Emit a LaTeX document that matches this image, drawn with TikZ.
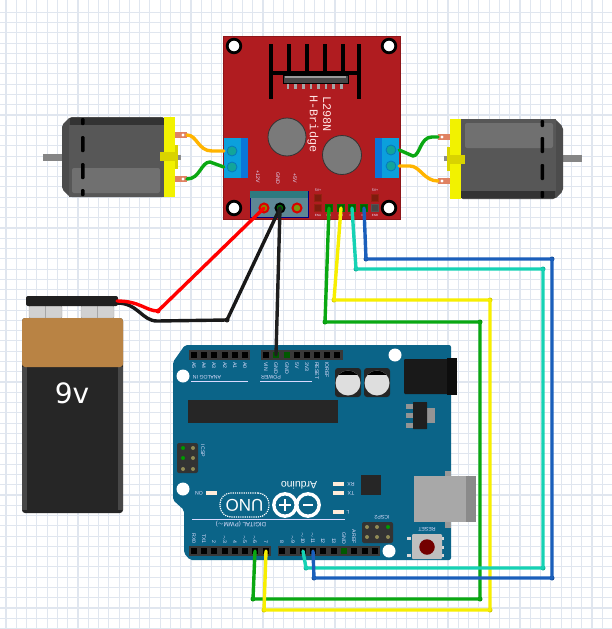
\documentclass[tikz,border=0pt]{standalone}
\usepackage{fontspec}
\setmainfont{Liberation Sans}
\newfontfamily\monofam{Liberation Mono}
\newfontfamily\batfam{DejaVu Sans}
\usetikzlibrary{shapes,positioning}

\definecolor{gridline}{HTML}{E0E6EF}
\definecolor{boardred}{HTML}{B01C20}
\definecolor{ardblue}{HTML}{0B6488}
\definecolor{termblue}{HTML}{0BA0DC}
\definecolor{termdark}{HTML}{0A76D8}
\definecolor{termteal}{HTML}{12A59A}
\definecolor{powerbody}{HTML}{5E8795}
\definecolor{powerband}{HTML}{2E7A80}
\definecolor{wiregreen}{HTML}{0AA812}
\definecolor{wireyellow}{HTML}{F7EE00}
\definecolor{wirecyan}{HTML}{16D2B4}
\definecolor{wireblue}{HTML}{1B5FBB}
\definecolor{wireorange}{HTML}{FFB400}
\definecolor{lugred}{HTML}{E08262}
\definecolor{platey}{HTML}{F2F200}
\definecolor{clipy}{HTML}{D9D300}
\definecolor{batbrown}{HTML}{B98344}

\tikzset{
	% -------------------------------------------------
	% shapes that repeat on the boards
	box/.style={inner sep=0, minimum width=#1},
	mhole/.style={circle, draw=black, line width=2.8pt, fill=white, inner sep=0, minimum size=13.6pt},
	whole/.style={circle, fill=white, inner sep=0, minimum size=13pt},
	gray circle/.style={circle, draw=black!80, line width=0.8pt, fill=black!52, inner sep=0, minimum size=#1},
	screw/.style={circle, draw=termdark!70!teal, line width=0.8pt, fill=termteal, inner sep=0, minimum size=10pt},
	wirehole/.style={circle, line width=2pt, inner sep=0, minimum size=9pt},
	pad/.style={rectangle, inner sep=0, minimum size=7pt, fill=#1!55!black, draw=#1!65!black, line width=1.6pt},
	pinhole/.style={rectangle, inner sep=0, minimum size=5.6pt, fill=black},
	icsppin/.style={circle, inner sep=0, minimum size=4pt, fill=#1},
	led/.style={rectangle, inner sep=0, minimum width=11pt, minimum height=4.5pt, fill=#1},
	% -------------------------------------------------
	% printed text
	silk/.style={font=\fontsize{5.2}{6}\selectfont, text=white!88!blue, inner sep=0},
	silkd/.style={silk, rotate=-90},
	silkf/.style={silk, rotate=180},
	brdsilk/.style={font=\monofam\fontsize{#1}{#1}\selectfont, text=white!90!red, inner sep=0, rotate=-90},
	% -------------------------------------------------
	% connector line styles
	wire/.style={line width=3.4pt, line join=round, line cap=round, draw=#1},
	wirebend/.style={circle, inner sep=0, minimum size=5pt, fill=#1},
	% -------------------------------------------------
	% one motor, the other one is this one turned round
	motor/.pic={
		\fill[black!48] (43,154) rectangle (62,161);
		\fill[black!45] (175,155) rectangle (181,160);
		\fill[black!70, rounded corners=2pt] (62,125) -- (70,117) -- (164,117) -- (164,197) -- (70,197) -- (62,189) -- cycle;
		\fill[black!66] (69,125) rectangle (164,197);
		\fill[black!56, rounded corners=2pt] (72,168) rectangle (160,193);
		\fill[black!80] (70,118) rectangle (164,125);
		\foreach \ya/\yb in {118/125, 136/152, 163/179, 189/196}
			\fill[black, rounded corners=1pt] (81,\ya) rectangle (84.5,\yb);
		\fill[platey] (164,117) rectangle (175,197);
		\fill[clipy] (175,145) rectangle (178,169);
		\fill[clipy] (160,152) rectangle (178,161);
		\fill[lugred] (175,132) rectangle (187,138);
		\fill[lugred] (175,176) rectangle (187,182);
		\fill[white] (183,135) circle (1.6);
		\fill[white] (183,179) circle (1.6);
		\coordinate (-lugA) at (187,135);
		\coordinate (-lugB) at (187,179);
	},
}

\begin{document}
\begin{tikzpicture}[x=1pt, y=-1pt]
	\useasboundingbox (0,0) rectangle (612,629);
	\fill[white] (0,0) rectangle (612,629);

	% ------------------------------------------------- 
	% squared paper
	\foreach \i in {0,...,59}
		\draw[gridline, line width=1.1pt] ({6+10.28*\i},0) -- ({6+10.28*\i},629);
	\foreach \i in {0,...,60}
		\draw[gridline, line width=1.1pt] (0,{12.3+10.27*\i}) -- (612,{12.3+10.27*\i});

	% ------------------------------------------------- 
	% motors
	\pic (mL) at (0,0) {motor};
	\pic[rotate around={180:(312.5,158)}] (mR) at (0,0) {motor};

	% ------------------------------------------------- 
	% L298N board
	\node[fill=boardred, draw=boardred!80!black, box=177pt, minimum height=183pt] (brd) at (311.5,127.5) {};
	\node[mhole] (h1) at (234,46) {};
	\node[mhole] (h2) at (389,46) {};
	\node[mhole] (h3) at (234,208) {};
	\node[mhole] (h4) at (389,208) {};

	% heat sink
	\foreach \x in {289,307,325,343}
		\fill[black] (\x-1.8,44) rectangle (\x+1.8,73);
	\foreach \x in {271,359}
		\fill[black] (\x-1.8,44) rectangle (\x+1.8,99);
	\fill[black] (271,71.2) rectangle (359,74.8);
	\foreach \i in {0,...,7}
		\fill[black!35] ({288+7.6*\i-1.3},83) rectangle ({288+7.6*\i+1.3},89);
	\fill[black!72, draw=black] (283,75) rectangle (348,83);
	\fill[black!40] (285,76) rectangle (346,78);

	\node[brdsilk=11.8] (t298) at (327,114) {L298N};
	\node[brdsilk=11.8] (tbridge) at (313,124) {H-Bridge};

	\node[gray circle=38pt] (c1) at (287,137) {};
	\node[gray circle=39pt] (c2) at (342,155) {};

	% motor terminals
	\node[fill=termblue, box=24pt, minimum height=40pt] (blkL) at (236,158) {};
	\fill[termdark] (241,138) rectangle (248,178);
	\node[screw] (sL1) at (232,151) {};
	\node[screw] (sL2) at (232,167) {};
	\node[fill=termblue, box=24pt, minimum height=40pt] (blkR) at (387,158) {};
	\fill[termdark] (375,138) rectangle (382,178);
	\node[screw] (sR1) at (391,150) {};
	\node[screw] (sR2) at (391,166) {};

	% power terminal
	\node[fill=powerbody, draw=blue!50!black, box=58pt, minimum height=26pt] (ptm) at (279,204) {};
	\fill[powerband] (250,191) rectangle (308,198);
	\node[wirehole, draw=red!85!black, fill=olive] (p12) at (264,208) {};
	\node[wirehole, draw=black, fill=green!40!black] (pgnd) at (280,208) {};
	\node[wirehole, draw=red!85!black, fill=olive!70!green] (p5) at (297,208) {};
	\node[silkd] (tv12) at (258,177) {+12V};
	\node[silkd] (tgnd) at (278,178) {GND};
	\node[silkd] (tv5) at (295,178) {+5V};

	% control pins
	\node[pad=red!60!brown] (sa) at (318,198) {};
	\node[pad=red!60!brown] (ena) at (318,208) {};
	\node[pad=green!70!black] (in1) at (329,208) {};
	\node[pad=green!70!black] (in2) at (341,208) {};
	\node[pad=green!70!black] (in3) at (352,208) {};
	\node[pad=green!70!black] (in4) at (364,208) {};
	\node[pad=red!60!brown] (sb) at (375,198) {};
	\node[pad=gray] (enb) at (375,208) {};
	\node[silk, font=\fontsize{3.6}{4}\selectfont] at (318,190) {5V+};
	\node[silk, font=\fontsize{3.6}{4}\selectfont] at (375,190) {5V+};
	\foreach \x/\t in {318/ENA, 329/IN1, 341/IN2, 352/IN3, 364/IN4, 375/ENB}
		\node[silk, font=\fontsize{3}{3}\selectfont] at (\x,215.5) {\t};

	% ------------------------------------------------- 
	% Arduino board
	\fill[ardblue, rounded corners=2pt] (185,345) -- (451,345) -- (451,560) -- (190,560)
		-- (184,553) -- (184,510) -- (173,500) -- (173,362) -- cycle;
	\node[whole] (w1) at (183,376) {};
	\node[whole] (w2) at (395,355) {};
	\node[whole] (w3) at (183,489) {};
	\node[whole] (w4) at (389,551) {};

	% headers
	\fill[black!78] (189,350) rectangle (250,360);
	\fill[black!78] (261,350) rectangle (343,360);
	\fill[black!78] (189,546) rectangle (271,556);
	\fill[black!78] (278,546) rectangle (380,556);
	\foreach \x/\t [count=\i] in {194/A5, 204/A4, 214/A3, 225/A2, 235/A1, 245/A0} {
		\node[pinhole] (ana\i) at (\x,355) {};
		\node[silkd, anchor=west] at (\x,362) {\t};
	}
	\foreach \x/\t [count=\i] in {266/VIN, 276/GND, 287/GND, 297/5V, 307/3V3, 317/RESET, 327/IOREF, 337/} {
		\node[pinhole] (pwr\i) at (\x,355) {};
		\node[silkd, anchor=west] at (\x,362) {\t};
	}
	\foreach \x/\t [count=\i] in {194/RX0, 204/TX1, 214/2, 225/$\sim$3, 235/4, 245/$\sim$5, 255/$\sim$6, 266/7, 282/8, 293/$\sim$9, 303/$\sim$10, 313/$\sim$11, 323/12, 334/13, 344/GND, 354/AREF, 365/, 375/} {
		\node[pinhole] (dig\i) at (\x,551) {};
		\node[silkd, anchor=east] at (\x,544) {\t};
	}
	\node[pinhole, fill=green!35!black] at (pwr2) {};
	\node[pinhole, fill=green!35!black] at (pwr3) {};
	\node[pinhole, fill=green!35!black] at (dig15) {};

	\draw[white!85!blue, line width=0.9pt] (191,381) -- (248,381);
	\draw[white!85!blue, line width=0.9pt] (260,381) -- (312,381);
	\draw[white!85!blue, line width=0.9pt] (192,519) -- (345,519);
	\node[silkf] (tana) at (207,377) {ANALOG IN};
	\node[silkf] (tpow) at (271,377) {POWER};
	\node[silkf, font=\fontsize{6.2}{7}\selectfont] (tdig) at (241,524) {DIGITAL (PWM$\sim$)};

	% chips
	\fill[black!85] (188,400) rectangle (338,423);
	\fill[black!85] (361,475) rectangle (381,495);

	% capacitors
	\foreach \x in {348,377} {
		\fill[black!85, rounded corners=3pt] (\x-13,368) rectangle (\x+13,397);
		\fill[black!13] (\x,383) circle (12.5);
		\begin{scope}
			\clip (\x,383) circle (12.5);
			\fill[black] (\x-13,368) rectangle (\x+13,374.5);
		\end{scope}
	}

	% jack, regulator
	\fill[black!90, rounded corners=1pt] (404,359) rectangle (448,394);
	\fill[black!95] (447,358) rectangle (457,395);
	\foreach \y in {404,413,423}
		\fill[black!42] (406,\y) rectangle (413,\y+5);
	\fill[black!42] (427,408) rectangle (435,423);
	\fill[black!88, rounded corners=0.5pt] (413,402) rectangle (427,429);

	% ICSP headers
	\fill[black!80, rounded corners=2pt] (177,443) rectangle (198,473);
	\foreach \x/\y/\c in {183/448/green!60!black, 193/448/olive!40!gray, 183/458/green!60!black, 193/458/olive!40!gray, 183/469/olive!40!gray, 193/469/olive!40!gray}
		\node[icsppin=\c] at (\x,\y) {};
	\node[silkd] (ticsp) at (203,451) {ICSP};
	\fill[black!80, rounded corners=2pt] (362,522) rectangle (393,543);
	\foreach \x/\y/\c in {367/527/olive!40!gray, 377/527/olive!40!gray, 388/527/green!60!black, 367/537/olive!40!gray, 377/537/olive!40!gray, 388/537/olive!40!gray}
		\node[icsppin=\c] at (\x,\y) {};
	\node[silkf] (ticsp2) at (382,517) {ICSP2};

	% logo
	\draw[white, line width=3.4pt] (285,505) circle (11.2);
	\draw[white, line width=3.4pt] (308,505) circle (11.2);
	\draw[white, line width=2.4pt] (279,505) -- (291,505);
	\draw[white, line width=2.4pt] (285,499) -- (285,511);
	\draw[white, line width=2.4pt] (303,505) -- (313,505);
	\node[draw=white, densely dotted, line width=1.2pt, rounded corners=11pt, inner sep=0, minimum width=49pt, minimum height=24pt] (pill) at (244.5,505) {};
	\node[font=\fontsize{17}{17}\selectfont, text=white, inner sep=0, rotate=180] (tuno) at (244.5,505) {UNO};
	\node[font=\fontsize{10.5}{11}\selectfont, text=white, inner sep=0, rotate=180] (tard) at (299,485) {Arduino};

	% leds
	\node[led=white!85!orange] (lon) at (211,493) {};
	\node[led=white!85!orange] (lrx) at (338.5,484) {};
	\node[led=white!85!orange] (ltx) at (338.5,493) {};
	\node[led=white!85!orange] (ll) at (338.5,512) {};
	\node[silkf] at (199,493) {ON};
	\node[silkf] at (351,484) {RX};
	\node[silkf] at (351,493) {TX};
	\node[silkf] at (348,512) {L};

	% usb
	\fill[black!40] (445,471) rectangle (451,476);
	\fill[black!40] (445,522) rectangle (451,528);
	\fill[black!34] (414,476) rectangle (476,522);
	\fill[black!46] (466,476) rectangle (476,522);

	% reset
	\foreach \x/\y in {409/538, 409/555, 442/538, 442/547, 442/555}
		\fill[black!15] (\x-2,\y-1.5) rectangle (\x+2,\y+1.5);
	\fill[black!25, rounded corners=1pt] (412,534) rectangle (442,559);
	\node[circle, fill=red!45!black, inner sep=0, minimum size=15.5pt] (btn) at (427,547) {};
	\node[silkf] (treset) at (427,529) {RESET};

	% ------------------------------------------------- 
	% battery
	\foreach \x in {29,81}
		\fill[black!18, draw=black!35, rounded corners=1pt] (\x,306) rectangle (\x+33,318);
	\foreach \x in {45,97}
		\draw[black!35] (\x,306) -- (\x,318);
	\fill[black!85, rounded corners=3pt] (22,318) rectangle (123,513);
	\fill[black!72] (22,367) rectangle (27,510);
	\fill[black!72] (118,367) rectangle (123,510);
	\fill[batbrown, rounded corners=3pt] (22,318) -- (123,318) -- (123,367) -- (22,367) -- cycle;
	\node[fill=black!88, rounded corners=2pt, box=92pt, minimum height=10pt] (bcap) at (72,301) {};
	\node[font=\batfam\fontsize{28}{28}\selectfont, text=white, inner sep=0] (t9v) at (72,393) {9v};

	% ------------------------------------------------- 
	% motor wires
	\coordinate (oaL) at (blkL.west |- sL1);
	\coordinate (gaL) at (blkL.west |- sL2);
	\draw[wire=wireorange] (mL-lugA) .. controls (197,135) and (198,151) .. (212,151) -- (oaL);
	\draw[wire=wiregreen] (mL-lugB) .. controls (200,179) and (201,162) .. (210,162) -- (gaL);
	\coordinate (gaR) at (blkR.east |- sR1);
	\coordinate (oaR) at (blkR.east |- sR2);
	\draw[wire=wiregreen] (gaR) -- (413,156) .. controls (420,156) and (420,137) .. (432,137) -- (mR-lugB);
	\draw[wire=wireorange] (oaR) -- (410,166) .. controls (420,166) and (424,181) .. (mR-lugA);

	% battery wires
	\coordinate (bred) at (117,301);
	\coordinate (bblk) at (117,303);
	\node[wirebend=black!85] (kblk) at (227,320) {};
	\draw[wire=black!90] (pgnd.center) -- (kblk.center) -- (157,321) .. controls (142,321) and (138,303) .. (bblk);
	\node[wirebend=red] (kred) at (158,311) {};
	\draw[wire=red] (p12.center) -- (kred.center) .. controls (146,311) and (140,301) .. (bred);
	\draw[wire=black!88] (pgnd.center) -- (pwr2.center);

	% ------------------------------------------------- 
	% signal wires, with the bends where they were dragged
	\node[wirebend=wiregreen!85!black] (g1) at (325,322) {};
	\node[wirebend=wiregreen!85!black] (g2) at (480,322) {};
	\node[wirebend=wiregreen!85!black] (g3) at (480,599) {};
	\node[wirebend=wiregreen!85!black] (g4) at (253,599) {};
	\draw[wire=wiregreen] (in1.center) -- (g1.center) -- (g2.center) -- (g3.center) -- (g4.center) -- (dig7.center);

	\node[wirebend=wireyellow!85!black] (y1) at (334,300) {};
	\node[wirebend=wireyellow!85!black] (y2) at (490,300) {};
	\node[wirebend=wireyellow!85!black] (y3) at (490,610) {};
	\node[wirebend=wireyellow!85!black] (y4) at (264,610) {};
	\draw[wire=wireyellow] (in2.center) -- (y1.center) -- (y2.center) -- (y3.center) -- (y4.center) -- (dig8.center);

	\node[wirebend=wirecyan!85!black] (a1) at (356,269) {};
	\node[wirebend=wirecyan!85!black] (a2) at (543,269) {};
	\node[wirebend=wirecyan!85!black] (a3) at (543,568) {};
	\node[wirebend=wirecyan!85!black] (a4) at (306,568) {};
	\draw[wire=wirecyan] (in3.center) -- (a1.center) -- (a2.center) -- (a3.center) -- (a4.center) -- (dig11.center);

	\node[wirebend=wireblue!85!black] (b1) at (366,259) {};
	\node[wirebend=wireblue!85!black] (b2) at (552,259) {};
	\node[wirebend=wireblue!85!black] (b3) at (552,578) {};
	\node[wirebend=wireblue!85!black] (b4) at (314,578) {};
	\draw[wire=wireblue] (in4.center) -- (b1.center) -- (b2.center) -- (b3.center) -- (b4.center) -- (dig12.center);
\end{tikzpicture}
\end{document}
